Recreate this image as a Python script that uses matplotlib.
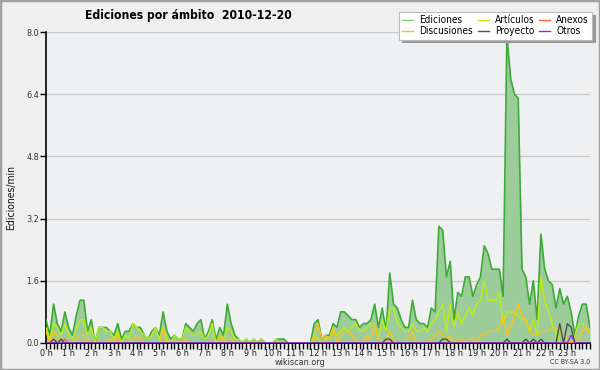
import numpy as np
import matplotlib
matplotlib.use("Agg")
import matplotlib.pyplot as plt
from matplotlib.patches import Rectangle
from matplotlib.ticker import FixedLocator
from matplotlib.lines import Line2D
from matplotlib import font_manager as fm

# ---- data (edits per minute, every 10 minutes, 0h .. 24h) ----
ediciones = [0.6, 0.2, 1.0, 0.5, 0.3, 0.8, 0.4, 0.2, 0.7, 1.1, 1.1, 0.3, 0.6, 0.0, 0.4, 0.4,
             0.4, 0.3, 0.2, 0.5, 0.1, 0.3, 0.3, 0.5, 0.4, 0.4, 0.2, 0.1, 0.3, 0.4, 0.2, 0.8,
             0.3, 0.1, 0.2, 0.1, 0.1, 0.5, 0.4, 0.3, 0.5, 0.6, 0.1, 0.3, 0.6, 0.1, 0.4, 0.2,
             1.0, 0.5, 0.2, 0.1, 0.0, 0.1, 0.0, 0.1, 0.0, 0.1, 0.0, 0.0, 0.0, 0.1, 0.1, 0.1,
             0.0, 0.0, 0.0, 0.0, 0.0, 0.0, 0.0, 0.5, 0.6, 0.1, 0.2, 0.2, 0.5, 0.4, 0.8, 0.8,
             0.7, 0.6, 0.6, 0.4, 0.5, 0.5, 0.6, 1.0, 0.4, 0.9, 0.3, 1.8, 1.0, 0.9, 0.6, 0.4,
             0.4, 1.1, 0.6, 0.5, 0.5, 0.4, 0.9, 0.8, 3.0, 2.9, 1.7, 2.1, 0.6, 1.3, 1.2, 1.7,
             1.7, 1.2, 1.5, 1.7, 2.5, 2.3, 1.9, 1.9, 1.9, 1.2, 7.9, 6.8, 6.4, 6.3, 1.9, 1.7,
             1.0, 1.6, 0.6, 2.8, 1.9, 1.6, 1.5, 0.9, 1.4, 1.0, 1.2, 0.8, 0.2, 0.7, 1.0, 1.0,
             0.4]
articulos = [0.4, 0.1, 0.5, 0.4, 0.2, 0.5, 0.2, 0.1, 0.4, 0.6, 0.6, 0.2, 0.4, 0.0, 0.4, 0.4,
             0.3, 0.3, 0.1, 0.3, 0.0, 0.2, 0.1, 0.5, 0.4, 0.3, 0.2, 0.1, 0.2, 0.4, 0.1, 0.4,
             0.1, 0.0, 0.2, 0.1, 0.1, 0.4, 0.3, 0.2, 0.2, 0.3, 0.1, 0.2, 0.5, 0.0, 0.2, 0.1,
             0.4, 0.3, 0.1, 0.1, 0.0, 0.1, 0.0, 0.1, 0.0, 0.1, 0.0, 0.0, 0.0, 0.1, 0.0, 0.0,
             0.0, 0.0, 0.0, 0.0, 0.0, 0.0, 0.0, 0.2, 0.1, 0.0, 0.1, 0.1, 0.3, 0.2, 0.3, 0.4,
             0.3, 0.4, 0.5, 0.3, 0.3, 0.4, 0.5, 0.5, 0.1, 0.6, 0.3, 0.9, 0.9, 0.5, 0.4, 0.3,
             0.3, 0.5, 0.3, 0.3, 0.4, 0.3, 0.5, 0.6, 0.8, 1.0, 0.3, 1.0, 0.4, 0.8, 0.5, 0.7,
             0.9, 0.7, 1.0, 1.1, 1.6, 1.1, 1.1, 1.1, 1.3, 0.5, 0.8, 0.8, 0.8, 0.7, 0.6, 0.6,
             0.3, 0.6, 0.2, 1.7, 1.1, 0.8, 0.5, 0.3, 0.0, 0.0, 0.0, 0.0, 0.2, 0.5, 0.5, 0.4,
             0.3]
discusiones = [0.3, 0.0, 0.3, 0.2, 0.1, 0.0, 0.0, 0.0, 0.1, 0.2, 0.2, 0.1, 0.0, 0.0, 0.0, 0.0,
               0.0, 0.1, 0.0, 0.2, 0.0, 0.0, 0.0, 0.1, 0.2, 0.1, 0.0, 0.0, 0.0, 0.0, 0.0, 0.4,
               0.0, 0.0, 0.0, 0.0, 0.0, 0.1, 0.0, 0.0, 0.0, 0.0, 0.0, 0.0, 0.0, 0.0, 0.2, 0.0,
               0.1, 0.1, 0.0, 0.0, 0.0, 0.0, 0.0, 0.0, 0.0, 0.0, 0.0, 0.0, 0.0, 0.0, 0.0, 0.0,
               0.0, 0.0, 0.0, 0.0, 0.0, 0.0, 0.0, 0.1, 0.5, 0.1, 0.2, 0.1, 0.4, 0.0, 0.2, 0.3,
               0.3, 0.2, 0.1, 0.0, 0.0, 0.2, 0.1, 0.5, 0.1, 0.0, 0.1, 0.3, 0.1, 0.0, 0.0, 0.0,
               0.1, 0.3, 0.0, 0.0, 0.0, 0.0, 0.1, 0.2, 0.3, 0.2, 0.1, 0.2, 0.0, 0.1, 0.1, 0.0,
               0.1, 0.1, 0.0, 0.2, 0.2, 0.3, 0.3, 0.3, 0.4, 0.7, 0.2, 0.4, 0.7, 1.0, 0.7, 0.6,
               0.3, 0.2, 0.2, 0.3, 0.3, 0.3, 0.4, 0.4, 0.3, 0.2, 0.1, 0.0, 0.0, 0.1, 0.3, 0.4,
               0.2]
n_points = len(ediciones)
proyecto_peaks = {2: 0.1, 4: 0.1, 90: 0.1, 91: 0.1, 105: 0.1, 106: 0.1, 122: 0.1,
                  127: 0.1, 129: 0.1, 131: 0.1, 136: 0.5, 138: 0.5, 139: 0.4}
anexos_peaks = {5: 0.1}
otros_peaks = {139: 0.2}
proyecto = [proyecto_peaks.get(i, 0.0) for i in range(n_points)]
anexos = [anexos_peaks.get(i, 0.0) for i in range(n_points)]
otros = [otros_peaks.get(i, 0.0) for i in range(n_points)]

hours = np.arange(n_points) / 6.0
hour_labels = [f"{h} h" for h in range(24)]
title = "Ediciones por ámbito  2010-12-20"
legend_labels = ["Ediciones", "Discusiones", "Artículos", "Proyecto", "Anexos", "Otros"]

# ---- font: prefer a condensed sans like the reference ----
FAM = "DejaVu Sans"
STRETCH = "normal"
if any("DejaVuSansCondensed" in f.fname for f in fm.fontManager.ttflist):
    STRETCH = "condensed"
elif any(f.name == "Liberation Sans Narrow" for f in fm.fontManager.ttflist):
    FAM = "Liberation Sans Narrow"
plt.rcParams["font.family"] = FAM
plt.rcParams["font.stretch"] = STRETCH

# ---- styling ----
c_edic_line = "#3daa38"
c_edic_fill = "#9dcc9b"
c_art = "#bbee11"
c_disc = "#ffc20e"
c_proy = "#444444"
c_anex = "#ff6a33"
c_otros = "#8a2be2"

fig = plt.figure(figsize=(6, 3.7), dpi=100, facecolor="#efefef")
fig.patches.append(Rectangle((0, 0), 1, 1, transform=fig.transFigure, fill=False,
                             edgecolor="#a0a0a0", linewidth=2.5))
ax = fig.add_axes([46 / 600, 1 - 343 / 370, (590 - 46) / 600, (343 - 32) / 370])
ax.set_facecolor("#eff0f1")

ax.fill_between(hours, ediciones, 0, color=c_edic_fill, linewidth=0, zorder=2)
ax.plot(hours, ediciones, color=c_edic_line, lw=1.2, zorder=3)
ax.plot(hours, articulos, color=c_art, lw=1.0, zorder=4)
ax.plot(hours, discusiones, color=c_disc, lw=1.0, zorder=5)
ax.plot(hours, anexos, color=c_anex, lw=1.0, zorder=5)
ax.plot(hours, proyecto, color=c_proy, lw=0.9, zorder=6)
ax.plot(hours, otros, color=c_otros, lw=1.0, zorder=6)

ax.set_xlim(0, 24)
ax.set_ylim(0, 8)
yt = [0.0, 1.6, 3.2, 4.8, 6.4, 8.0]
ax.set_yticks(yt)
ax.set_yticklabels([f"{v:.1f}" for v in yt], fontsize=6.5, color="#333333")
ax.yaxis.grid(True, color="#c8c8c8", lw=0.9, zorder=0)
ax.set_axisbelow(True)

ax.set_xticks(range(24))
ax.set_xticklabels(hour_labels, fontsize=6.5, color="#222222")
ax.xaxis.set_minor_locator(FixedLocator(np.arange(0, 24.01, 1 / 6)))
ax.tick_params(axis="x", which="both", direction="out", length=4, width=1, pad=0)
ax.tick_params(axis="y", direction="out", length=4, width=1, pad=1)

for s in ["top", "right"]:
    ax.spines[s].set_visible(False)
for s in ["left", "bottom"]:
    ax.spines[s].set_color("black")
    ax.spines[s].set_linewidth(1.2)

fig.text(11 / 600, 1 - 197 / 370, "Ediciones/min", fontsize=7.5, rotation=90,
         ha="center", va="center", color="#111111")
fig.text(188 / 600, 1 - 16 / 370, title, fontsize=8.7, fontweight="bold",
         ha="center", va="center")
fig.text(300 / 600, 1 - 362.5 / 370, "wikiscan.org", fontsize=6.5, ha="center",
         va="center", color="#333333")
fig.text(590 / 600, 1 - 362.5 / 370, "CC BY-SA 3.0", fontsize=5, ha="right",
         va="center", color="#333333")

handles = [Line2D([], [], color="#7dcc7a", lw=1), Line2D([], [], color=c_disc, lw=1),
           Line2D([], [], color=c_art, lw=1), Line2D([], [], color="#555555", lw=1),
           Line2D([], [], color=c_anex, lw=1), Line2D([], [], color=c_otros, lw=1)]
leg = ax.legend(handles, legend_labels, loc="upper right",
                bbox_to_anchor=(592 / 600, 1 - 12 / 370),
                bbox_transform=fig.transFigure, ncol=3, fontsize=7.2, frameon=True,
                fancybox=False, shadow={"color": "#999999", "alpha": 1}, handlelength=1.1,
                columnspacing=0.5, labelspacing=0.15, borderpad=0.3, handletextpad=0.6,
                borderaxespad=0)
leg.get_frame().set_edgecolor("#bbbbbb")
leg.get_frame().set_linewidth(0.8)

fig.savefig("out.png", dpi=100, facecolor=fig.get_facecolor())
